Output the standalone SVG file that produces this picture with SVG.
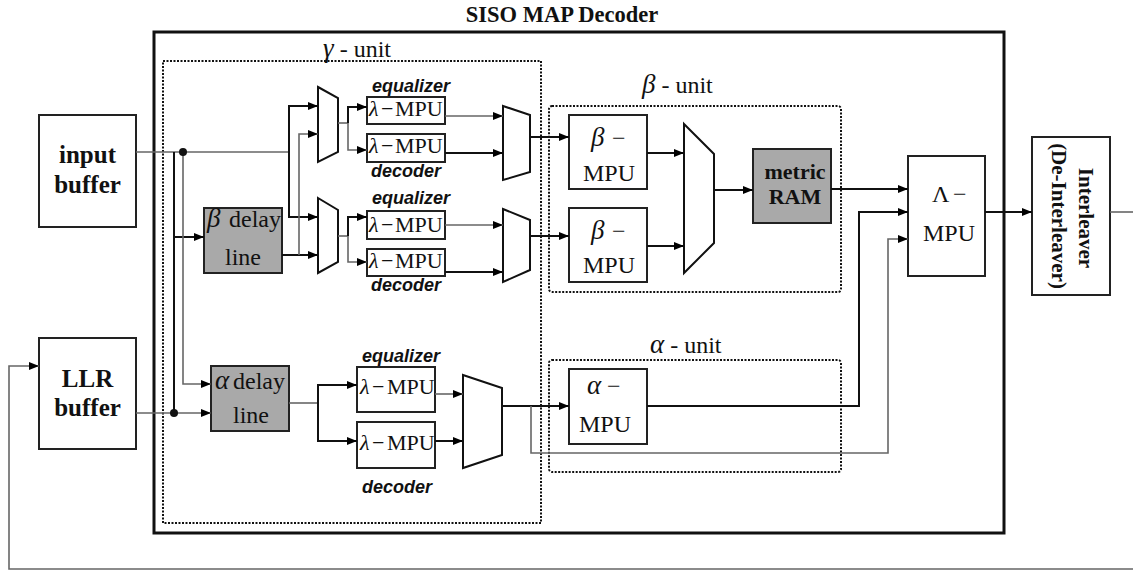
<svg xmlns="http://www.w3.org/2000/svg" width="1133" height="572" viewBox="0 0 1133 572">
<defs>
<marker id="ar" markerUnits="userSpaceOnUse" markerWidth="10" markerHeight="8" refX="10" refY="4" orient="auto"><path d="M0,0 L10,4 L0,8 z" fill="#000"/></marker>
<style>
.box{fill:#fff;stroke:#222;stroke-width:2}
.gbox{fill:#a9a9a9;stroke:#222;stroke-width:2}
.mux{fill:#fff;stroke:#111;stroke-width:2}
.dot{fill:none;stroke:#111;stroke-width:2;stroke-dasharray:2 1.5}
.k{fill:none;stroke:#111;stroke-width:2}
.g{fill:none;stroke:#666;stroke-width:1.6}
.a{marker-end:url(#ar)}
.t{font-family:"Liberation Serif",serif;fill:#111}
.tb{font-family:"Liberation Serif",serif;font-weight:bold;fill:#111}
.s{font-family:"Liberation Sans",sans-serif;font-weight:bold;font-style:italic;font-size:18px;fill:#111}
.i{font-style:italic}
</style>
</defs>
<text class="tb" x="562" y="22" font-size="22.5" text-anchor="middle">SISO MAP Decoder</text>
<rect x="154" y="32" width="850" height="501" fill="none" stroke="#111" stroke-width="3"/>
<g id="gamma-unit">
<rect class="dot" x="163" y="61" width="378" height="462"/>
<text class="t" x="323" y="57" font-size="24"><tspan class="i" font-size="27">γ</tspan> - unit</text>
</g>
<g id="beta-unit">
<rect class="dot" x="549" y="106" width="292" height="186" rx="3"/>
<text class="t" x="642" y="93" font-size="24"><tspan class="i" font-size="27">β</tspan> - unit</text>
</g>
<g id="alpha-unit">
<rect class="dot" x="549" y="360" width="292" height="112" rx="3"/>
<text class="t" x="650" y="353" font-size="24"><tspan class="i" font-size="27">α</tspan> - unit</text>
</g>
<g id="input-buffer">
<rect class="box" x="39" y="115" width="97" height="112"/>
<text class="tb" x="87.5" y="163" font-size="25" text-anchor="middle">input</text>
<text class="tb" x="87.5" y="193" font-size="25" text-anchor="middle">buffer</text>
</g>
<g id="llr-buffer">
<rect class="box" x="39" y="338" width="97" height="111"/>
<text class="tb" x="87.5" y="387" font-size="25" text-anchor="middle">LLR</text>
<text class="tb" x="87.5" y="416" font-size="25" text-anchor="middle">buffer</text>
</g>
<g id="beta-delay-line">
<rect class="gbox" x="204" y="208" width="78" height="65"/>
<text class="t" font-size="24"><tspan class="i" x="207" y="227" font-size="27">β</tspan><tspan x="229" y="227">delay</tspan></text>
<text class="t" x="243" y="265" font-size="24" text-anchor="middle">line</text>
</g>
<g id="alpha-delay-line">
<rect class="gbox" x="211" y="366" width="78" height="65"/>
<text class="t" font-size="24"><tspan class="i" x="215" y="389" font-size="27">α</tspan><tspan x="233" y="389">delay</tspan></text>
<text class="t" x="251" y="423" font-size="24" text-anchor="middle">line</text>
</g>
<g id="mux1"><polygon class="mux" points="318,87 338,98 338,152 318,162"/></g>
<g id="mux2"><polygon class="mux" points="318,198 338,210 338,262 318,273"/></g>
<g id="mux3"><polygon class="mux" points="503,106 530,115 530,172 503,180"/></g>
<g id="mux4"><polygon class="mux" points="503,209 530,220 530,270 503,282"/></g>
<g id="mux5"><polygon class="mux" points="463,375 502,388 502,455 463,468"/></g>
<g id="mux-beta"><polygon class="mux" points="684,124 714,154 714,243 684,273"/></g>
<g id="lambda-mpu-1">
<text class="s" x="411" y="92" text-anchor="middle">equalizer</text>
<rect class="box" x="367" y="97" width="78" height="27"/>
<text class="t" font-size="22"><tspan class="i" x="369" y="116">λ</tspan><tspan x="381" y="116">−</tspan><tspan x="395" y="116">MPU</tspan></text>
</g>
<g id="lambda-mpu-2">
<rect class="box" x="367" y="134" width="78" height="28"/>
<text class="t" font-size="22"><tspan class="i" x="369" y="153">λ</tspan><tspan x="381" y="153">−</tspan><tspan x="395" y="153">MPU</tspan></text>
<text class="s" x="406" y="177" text-anchor="middle">decoder</text>
</g>
<g id="lambda-mpu-3">
<text class="s" x="411" y="204" text-anchor="middle">equalizer</text>
<rect class="box" x="367" y="211" width="78" height="28"/>
<text class="t" font-size="22"><tspan class="i" x="369" y="232">λ</tspan><tspan x="381" y="232">−</tspan><tspan x="395" y="232">MPU</tspan></text>
</g>
<g id="lambda-mpu-4">
<rect class="box" x="367" y="249" width="78" height="27"/>
<text class="t" font-size="22"><tspan class="i" x="369" y="268">λ</tspan><tspan x="381" y="268">−</tspan><tspan x="395" y="268">MPU</tspan></text>
<text class="s" x="406" y="291" text-anchor="middle">decoder</text>
</g>
<g id="lambda-mpu-5">
<text class="s" x="401" y="362" text-anchor="middle">equalizer</text>
<rect class="box" x="357" y="367" width="78" height="45"/>
<text class="t" font-size="22"><tspan class="i" x="360" y="394">λ</tspan><tspan x="372" y="394">−</tspan><tspan x="387" y="394">MPU</tspan></text>
</g>
<g id="lambda-mpu-6">
<rect class="box" x="357" y="422" width="78" height="46"/>
<text class="t" font-size="22"><tspan class="i" x="360" y="450">λ</tspan><tspan x="372" y="450">−</tspan><tspan x="387" y="450">MPU</tspan></text>
<text class="s" x="397" y="493" text-anchor="middle">decoder</text>
</g>
<g id="beta-mpu-1">
<rect class="box" x="569" y="115" width="78" height="74"/>
<text class="t" font-size="24"><tspan class="i" x="591" y="146" font-size="27">β</tspan><tspan x="612" y="146">−</tspan></text>
<text class="t" x="609" y="181" font-size="24" text-anchor="middle">MPU</text>
</g>
<g id="beta-mpu-2">
<rect class="box" x="569" y="208" width="78" height="74"/>
<text class="t" font-size="24"><tspan class="i" x="591" y="239" font-size="27">β</tspan><tspan x="612" y="239">−</tspan></text>
<text class="t" x="609" y="273" font-size="24" text-anchor="middle">MPU</text>
</g>
<g id="metric-ram">
<rect class="gbox" x="753" y="149" width="78" height="74"/>
<text class="tb" x="795" y="179" font-size="22" text-anchor="middle">metric</text>
<text class="tb" x="795" y="204" font-size="22" text-anchor="middle">RAM</text>
</g>
<g id="alpha-mpu">
<rect class="box" x="569" y="369" width="78" height="75"/>
<text class="t" font-size="24"><tspan class="i" x="587" y="394" font-size="27">α</tspan><tspan x="607" y="394">−</tspan></text>
<text class="t" x="605" y="432" font-size="24" text-anchor="middle">MPU</text>
</g>
<g id="Lambda-mpu">
<rect class="box" x="908" y="156" width="77" height="120"/>
<text class="t" font-size="24"><tspan x="932" y="202">Λ</tspan><tspan x="953" y="202">−</tspan></text>
<text class="t" x="949" y="241" font-size="24" text-anchor="middle">MPU</text>
</g>
<g id="interleaver">
<rect class="box" x="1032" y="137" width="78" height="158"/>
<text class="tb" font-size="21" text-anchor="middle" transform="translate(1079,218) rotate(90)">Interleaver</text>
<text class="tb" font-size="21" text-anchor="middle" transform="translate(1052,216) rotate(90)">(De-Interleaver)</text>
</g>
<g id="connectors">
<path class="g" d="M136,152 H289"/>
<path class="k" d="M174,152 V413"/>
<path class="k a" d="M174,237 H204"/>
<path class="g a" d="M183,152 V384 H211"/>
<path class="g a" d="M136,413 H211"/>
<path class="k a" d="M289,152 V106 H318"/>
<path class="k a" d="M289,152 V217 H318"/>
<path class="k a" d="M282,255 H318"/>
<path class="g a" d="M299,255 V134 H318"/>
<path class="g" d="M338,123 H348"/>
<path class="k a" d="M348,123 V107 H367"/>
<path class="g a" d="M348,123 V150 H367"/>
<path class="g" d="M338,236 H348"/>
<path class="k a" d="M348,236 V217 H367"/>
<path class="g a" d="M348,236 V262 H367"/>
<path class="g a" d="M445,116 H503"/>
<path class="k a" d="M445,153 H503"/>
<path class="g a" d="M445,225 H503"/>
<path class="k a" d="M445,272 H503"/>
<path class="k a" d="M530,137 H569"/>
<path class="k a" d="M530,236 H569"/>
<path class="k a" d="M647,153 H684"/>
<path class="k a" d="M647,246 H684"/>
<path class="k a" d="M714,190 H753"/>
<path class="k a" d="M831,189 H908"/>
<path class="g" d="M289,403 H318"/>
<path class="k a" d="M318,403 V385 H357"/>
<path class="k a" d="M318,403 V441 H357"/>
<path class="g a" d="M435,394 H463"/>
<path class="k a" d="M435,441 H463"/>
<path class="k a" d="M502,406 H569"/>
<path class="g a" d="M531,406 V453 H888 V239 H908"/>
<path class="k a" d="M647,406 H859 V212 H908"/>
<path class="k a" d="M985,212 H1032"/>
<path class="g" d="M1110,212 H1133"/>
<path class="g a" d="M1133,569 H9 V366 H39"/>
<circle cx="183" cy="152" r="4" fill="#111"/>
<circle cx="174" cy="413" r="4" fill="#111"/>
</g>
</svg>
